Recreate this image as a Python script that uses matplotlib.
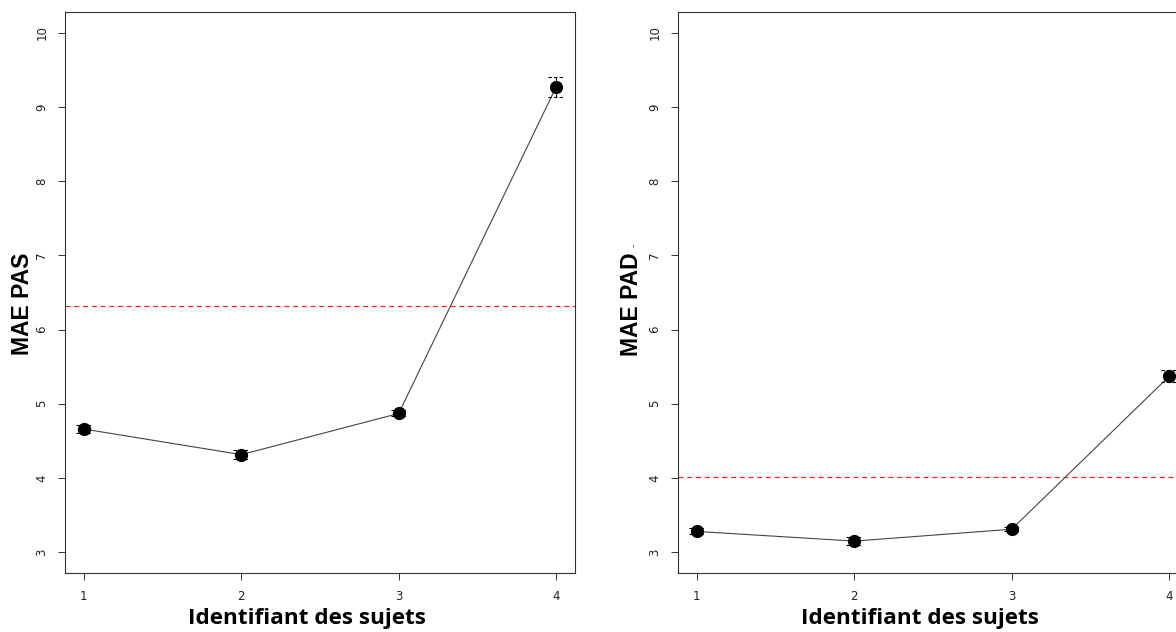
import numpy as np
import matplotlib
matplotlib.use("Agg")
import matplotlib.pyplot as plt

# subjects and mean absolute errors
subjects = [1, 2, 3, 4]
mae_pas = [4.66, 4.315, 4.87, 9.27]
err_pas = [0.06, 0.065, 0.04, 0.14]
ref_pas = 6.32

mae_pad = [3.28, 3.15, 3.31, 5.37]
err_pad = [0.04, 0.05, 0.03, 0.08]
ref_pad = 4.01

y_ticks = [3, 4, 5, 6, 7, 8, 9, 10]
x_label = "Identifiant des sujets"

W, H = 1176, 632
fig = plt.figure(figsize=(W / 100, H / 100), dpi=100)
fig.patch.set_facecolor("white")


def px_axes(left, top, width, height):
    return fig.add_axes([left / W, 1 - (top + height) / H, width / W, height / H])


def draw_panel(ax, vals, errs, ref, ylab, ylab_x):
    x = np.array(subjects)
    v = np.array(vals)
    e = np.array(errs)
    ax.plot(x, v, color="#444444", lw=0.8, zorder=2)
    cap = 0.05
    ax.vlines(x, v - e, v + e, colors="black", linestyles=(0, (3, 2)), lw=0.8, zorder=3)
    ax.hlines(v - e, x - cap, x + cap, colors="black", linestyles=(0, (3, 2)), lw=0.8, zorder=3)
    ax.hlines(v + e, x - cap, x + cap, colors="black", linestyles=(0, (3, 2)), lw=0.8, zorder=3)
    ax.plot(x, v, "o", color="black", ms=8.5, zorder=4)
    ax.axhline(ref, color="#ff2020", lw=0.9, ls=(0, (4, 3)), zorder=1)

    ax.set_xlim(0.88, 4.12)
    ax.set_ylim(2.72, 10.28)
    ax.set_xticks(subjects)
    ax.set_yticks(y_ticks)
    ax.tick_params(axis="both", length=5, width=0.7, labelsize=8.5, color="#333333",
                   labelcolor="#222222")
    ax.tick_params(axis="x", pad=7)
    ax.tick_params(axis="y", pad=7)
    for lab in ax.get_yticklabels():
        lab.set_rotation(90)
        lab.set_va("center")
    for s in ax.spines.values():
        s.set_linewidth(0.8)
        s.set_color("#333333")

    ax.text(0.475, -0.081, x_label, transform=ax.transAxes, ha="center", va="center",
            fontsize=16.2, fontweight="bold", family="Open Sans", color="black")
    ax.text(ylab_x, 0.48, ylab, transform=ax.transAxes, ha="center", va="center",
            rotation=90, fontsize=16.5, fontweight="bold", family="Liberation Sans",
            color="black")


ax1 = px_axes(65, 12, 510, 561)
draw_panel(ax1, mae_pas, err_pas, ref_pas, "MAE PAS", -0.084)

ax2 = px_axes(678, 12, 510, 561)
draw_panel(ax2, mae_pad, err_pad, ref_pad, "MAE PAD", -0.092)
ax2.text(-0.088, 0.585, "-", transform=ax2.transAxes, ha="center", va="center",
         rotation=90, fontsize=7, color="#33507a")

fig.savefig("out.png", dpi=100)
